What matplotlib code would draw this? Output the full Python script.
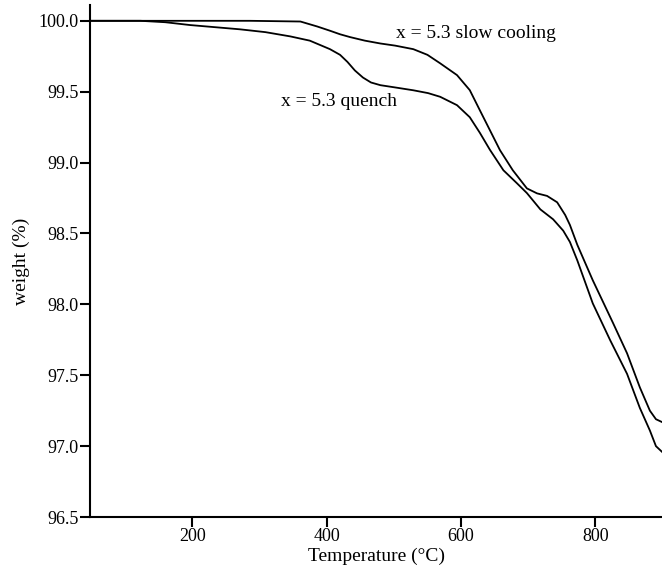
import matplotlib
matplotlib.use('Agg')
import matplotlib.pyplot as plt

# curvas TGA
temp_slow = [48, 286, 361, 386, 405, 420, 435, 457, 480, 502, 529, 550, 569, 594,
             613, 628, 643, 658, 677, 698, 713, 728, 743, 755, 762, 773, 796, 826,
             847, 866, 881, 890, 899]
peso_slow = [100.0, 100.0, 99.995, 99.96, 99.93, 99.905, 99.885, 99.86, 99.84, 99.825,
             99.80, 99.76, 99.70, 99.617, 99.511, 99.369, 99.228, 99.087, 98.946,
             98.818, 98.783, 98.765, 98.72, 98.63, 98.56, 98.42, 98.17, 97.87,
             97.655, 97.415, 97.25, 97.19, 97.17]

temp_quench = [48, 123, 160, 197, 234, 271, 309, 346, 375, 405, 420, 431, 442, 454,
               466, 480, 502, 529, 551, 569, 594, 613, 628, 643, 663, 683, 698, 718,
               737, 752, 762, 773, 796, 822, 847, 866, 881, 890, 899]
peso_quench = [100.0, 100.0, 99.99, 99.97, 99.955, 99.94, 99.92, 99.89, 99.86, 99.80,
               99.76, 99.71, 99.65, 99.60, 99.565, 99.546, 99.53, 99.51, 99.49, 99.464,
               99.405, 99.32, 99.21, 99.09, 98.946, 98.855, 98.785, 98.67, 98.60,
               98.52, 98.44, 98.31, 98.007, 97.746, 97.51, 97.27, 97.11, 97.0, 96.96]

yticks = [96.5, 97.0, 97.5, 98.0, 98.5, 99.0, 99.5, 100.0]
xticks = [200, 400, 600, 800]

plt.rcParams['font.family'] = ['Liberation Serif', 'DejaVu Serif']

fig = plt.figure(figsize=(6.62, 5.79), dpi=100)
ax = fig.add_axes([0.136, 0.107, 0.864, 0.884])

ax.plot(temp_slow, peso_slow, color='black', lw=1.3)
ax.plot(temp_quench, peso_quench, color='black', lw=1.3)

ax.text(503, 99.913, 'x = 5.3 slow cooling', fontsize=14, va='center', ha='left')
ax.text(332, 99.43, 'x = 5.3 quench', fontsize=14, va='center', ha='left')

ax.set_xlim(48, 899)
ax.set_ylim(96.5, 100.11)
ax.set_xticks(xticks)
ax.set_yticks(yticks)
ax.set_yticklabels([f'{v:.1f}' for v in yticks])

for s in ['top', 'right']:
    ax.spines[s].set_visible(False)
for s in ['left', 'bottom']:
    ax.spines[s].set_linewidth(1.5)
ax.tick_params(direction='out', length=7, width=1.5, labelsize=13, pad=1)

ax.set_xlabel('Temperature (°C)', fontsize=14, labelpad=2)
ax.set_ylabel('weight (%)', fontsize=14, labelpad=6)

fig.savefig('out.png', dpi=100)
